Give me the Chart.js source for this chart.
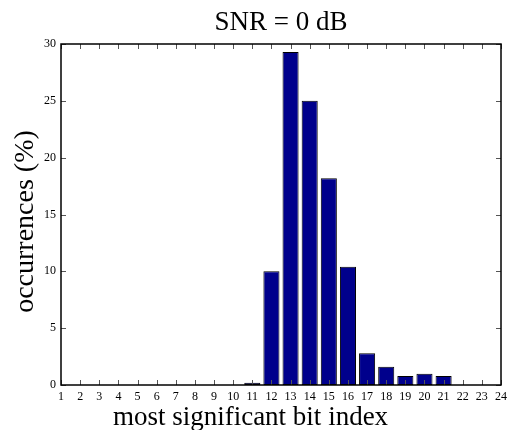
<!DOCTYPE html>
<html>
<head>
<meta charset="utf-8">
<script src="https://cdn.jsdelivr.net/npm/chart.js@4/dist/chart.umd.min.js"></script>
<style>
    html, body { margin: 0; padding: 0; background: #fff; }
    #wrap { width: 508px; height: 430px; }
</style>
</head>
<body>
<div id="wrap"><canvas id="chart-msb"></canvas></div>
<script>
// --- data ---
const bitIndex = ['1', '2', '3', '4', '5', '6', '7', '8', '9', '10', '11', '12',
    '13', '14', '15', '16', '17', '18', '19', '20', '21', '22', '23', '24']
const occurrences = [0, 0, 0, 0, 0, 0, 0, 0, 0, 0, 0.2, 10.0,
    29.3, 25.0, 18.2, 10.4, 2.8, 1.6, 0.8, 1.0, 0.8, 0, 0, 0]
const yTicks = [0, 5, 10, 15, 20, 25, 30]

const SERIF = "'Liberation Serif', 'DejaVu Serif', serif"
const BAR_BLUE = 'rgb(0,0,140)'

// box round the plot with inward ticks on every side
const boxTicks = {
    id: 'boxTicks',
    afterDatasetsDraw(chart) {
        const { ctx, chartArea: a, scales: { x, y } } = chart
        const len = 5
        ctx.save()
        ctx.strokeStyle = '#555'
        ctx.lineWidth = 1
        ctx.beginPath()
        bitIndex.forEach((_, i) => {
            const px = Math.round(x.getPixelForValue(i)) + 0.5
            ctx.moveTo(px, a.bottom); ctx.lineTo(px, a.bottom - len)
            ctx.moveTo(px, a.top); ctx.lineTo(px, a.top + len)
        })
        yTicks.forEach(v => {
            const py = Math.round(y.getPixelForValue(v)) + 0.5
            ctx.moveTo(a.left, py); ctx.lineTo(a.left + len, py)
            ctx.moveTo(a.right, py); ctx.lineTo(a.right - len, py)
        })
        ctx.stroke()
        ctx.strokeStyle = '#000'
        ctx.lineWidth = 1.5
        ctx.strokeRect(a.left, a.top, a.right - a.left, a.bottom - a.top)
        ctx.restore()
    }
}

new Chart(document.getElementById('chart-msb'), {
    type: 'bar',
    data: {
        labels: bitIndex,
        datasets: [{
            data: occurrences,
            backgroundColor: BAR_BLUE,
            borderColor: '#000',
            borderWidth: 1,
            borderSkipped: false,
            categoryPercentage: 1,
            barPercentage: 0.84,
        }]
    },
    options: {
        responsive: true,
        maintainAspectRatio: false,
        animation: false,
        layout: { padding: { left: 0, right: 7, top: 0, bottom: 0 } },
        plugins: {
            legend: { display: false },
            tooltip: { enabled: false },
            title: {
                display: true,
                fullSize: false,
                text: 'SNR = 0 dB',
                color: '#000',
                font: { family: SERIF, size: 27, weight: 'normal', lineHeight: 1.2 },
                padding: { top: 6.7, bottom: 4.9 },
            },
            // x axis caption sits centred on the whole figure, as in the original
            subtitle: {
                display: true,
                position: 'bottom',
                text: 'most significant bit index',
                color: '#000',
                font: { family: SERIF, size: 27, lineHeight: 0.9 },
                padding: { top: 0, bottom: 0 },
            },
        },
        scales: {
            x: {
                offset: false,
                grid: { display: false, drawTicks: false },
                border: { display: false },
                ticks: { color: '#000', padding: 5, autoSkip: false, maxRotation: 0, font: { family: SERIF, size: 12 } },
                afterFit(scale) {
                    scale.height = 20.7
                    scale.paddingRight = 6
                },
            },
            y: {
                min: 0, max: 30,
                grid: { display: false, drawTicks: false },
                border: { display: false },
                ticks: { color: '#000', stepSize: 5, padding: 5, font: { family: SERIF, size: 12 } },
                title: {
                    display: true,
                    text: 'occurrences (%)  ',
                    color: '#000',
                    font: { family: SERIF, size: 28, lineHeight: 1.2 },
                    padding: { top: 9, bottom: 0 },
                },
                afterFit(scale) { scale.width = 61 },
            },
        },
    },
    plugins: [boxTicks]
})
</script>
</body>
</html>
